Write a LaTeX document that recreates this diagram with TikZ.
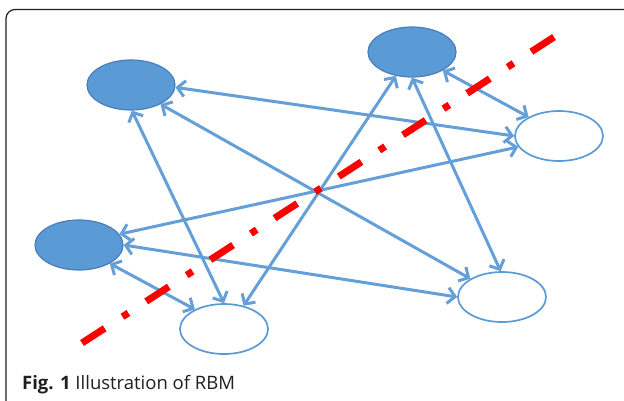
\documentclass[tikz,border=0pt]{standalone}
\usepackage{fontspec}
\setmainfont{Open Sans}
\usetikzlibrary{arrows.meta,shapes.geometric}
\definecolor{nodeblue}{HTML}{5B9BD5}
\definecolor{nodeedge}{HTML}{4A7EBB}
\definecolor{linkblue}{HTML}{659FD8}
\definecolor{dashred}{HTML}{FF0000}
\definecolor{framegray}{HTML}{231F20}
\begin{document}
\begin{tikzpicture}[x=1pt,y=-1pt,
  hidnode/.style={ellipse, draw=nodeedge, fill=nodeblue, line width=1.2pt,
    minimum width=88pt, minimum height=50pt, inner sep=0pt},
  visnode/.style={ellipse, draw=nodeblue, fill=white, line width=1.7pt,
    minimum width=88pt, minimum height=50pt, inner sep=0pt},
  link/.style={draw=linkblue, line width=3pt,
    {Straight Barb[length=7.5pt,width=16pt]}-{Straight Barb[length=7.5pt,width=16pt]}},
  redline/.style={draw=dashred, line width=7pt,
    dash pattern=on 27pt off 21.25pt on 7pt off 21.25pt},
  framestyle/.style={draw=framegray, line width=1.2pt, rounded corners=9pt},
  caption/.style={anchor=base west, inner sep=0pt, text=framegray, font=\fontsize{18.5}{22}\selectfont}
]
\useasboundingbox (0,0) rectangle (624,400);
\clip (0,0) rectangle (624,400);
\fill[white] (0,0) rectangle (624,400);
\draw[framestyle] (6,9.5) rectangle (636,410);

\node[hidnode] (h1) at (131,85) {};
\node[hidnode] (h2) at (412,52) {};
\node[hidnode] (h3) at (79,245) {};
\node[visnode] (v1) at (559,136) {};
\node[visnode] (v2) at (224,329) {};
\node[visnode] (v3) at (502,297) {};

\draw[link] (h1.-3) -- (v1.180);
\draw[link] (h1.-33) -- (v3.150);
\draw[link] (h1.-88) -- (v2.90);
\draw[link] (h2.236) -- (v2.50);
\draw[link] (h2.270) -- (v3.93);
\draw[link] (h2.-31) -- (v1.148);
\draw[link] (h3.15) -- (v1.195);
\draw[link] (h3.0) -- (v3.180);
\draw[link] (h3.-31) -- (v2.146);

\coordinate (r1) at (82,343);
\coordinate (r2) at (554,37);
\draw[redline] (r1) -- (r2);

\node[caption] (cap) at (22,389) {\textbf{Fig. 1} Illustration of RBM};
\end{tikzpicture}
\end{document}
